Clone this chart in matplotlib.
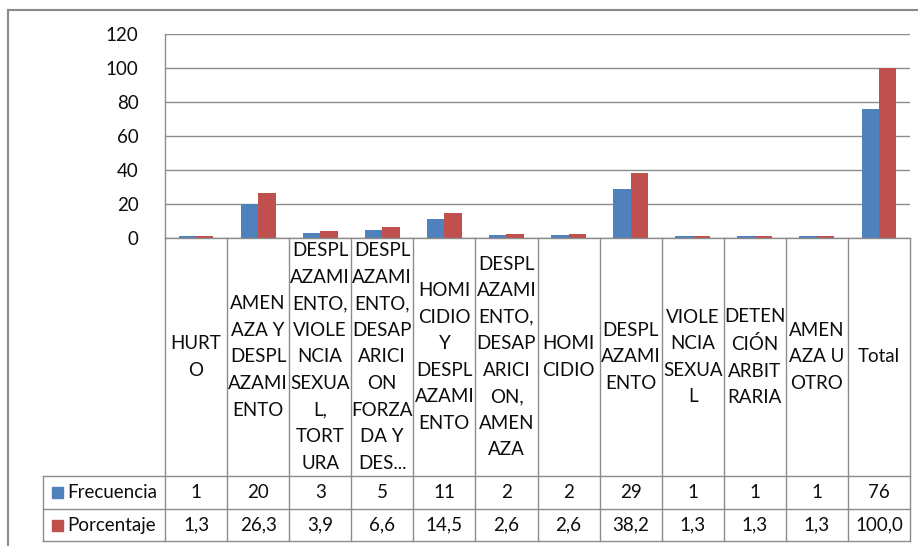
import matplotlib
matplotlib.use("Agg")
import matplotlib.pyplot as plt
from matplotlib.lines import Line2D
from matplotlib.patches import Rectangle
import numpy as np

categories = [
    "HURT\nO",
    "AMEN\nAZA Y\nDESPL\nAZAMI\nENTO",
    "DESPL\nAZAMI\nENTO,\nVIOLE\nNCIA\nSEXUA\nL,\nTORT\nURA",
    "DESPL\nAZAMI\nENTO,\nDESAP\nARICI\nON\nFORZA\nDA Y\nDES...",
    "HOMI\nCIDIO\nY\nDESPL\nAZAMI\nENTO",
    "DESPL\nAZAMI\nENTO,\nDESAP\nARICI\nON,\nAMEN\nAZA",
    "HOMI\nCIDIO",
    "DESPL\nAZAMI\nENTO",
    "VIOLE\nNCIA\nSEXUA\nL",
    "DETEN\nCIÓN\nARBIT\nRARIA",
    "AMEN\nAZA U\nOTRO",
    "Total",
]
frecuencia = [1, 20, 3, 5, 11, 2, 2, 29, 1, 1, 1, 76]
porcentaje = [1.3, 26.3, 3.9, 6.6, 14.5, 2.6, 2.6, 38.2, 1.3, 1.3, 1.3, 100.0]
series_names = ["Frecuencia", "Porcentaje"]
yticks = [0, 20, 40, 60, 80, 100, 120]

BLUE = "#4F81BD"
RED = "#C0504D"
GRID = "#8C8C8C"
TXT = "#0d0d0d"
FONT = "Lato"
FS = 13.5

W, H = 918, 546
fig = plt.figure(figsize=(W / 100, H / 100), dpi=100)
plt.rcParams["font.family"] = [FONT, "DejaVu Sans"]

def fx(px):
    return px / W

def fy(py):
    return 1 - py / H

# pixel layout
pl, pr = 165, 910
ptop, pzero = 34, 238
tbl_left = 43
row_lab_bot, row1_bot, row2_bot = 476, 509, 541

ax = fig.add_axes([fx(pl), fy(pzero), fx(pr) - fx(pl), fy(ptop) - fy(pzero)])
n = len(categories)
x = np.arange(n)
bw = 0.28
ax.bar(x - bw / 2, frecuencia, bw, color=BLUE, zorder=3)
ax.bar(x + bw / 2, porcentaje, bw, color=RED, zorder=3)
ax.set_xlim(-0.5, n - 0.5)
ax.set_ylim(0, 120)
ax.set_yticks(yticks)
ax.set_yticklabels([str(v) for v in yticks], fontsize=FS, color=TXT)
ax.tick_params(axis="y", length=0, pad=19)
ax.set_xticks([])
ax.grid(axis="y", color=GRID, linewidth=1.0, zorder=0)
for s in ["top", "right", "bottom"]:
    ax.spines[s].set_visible(False)
ax.spines["left"].set_color(GRID)
ax.spines["left"].set_linewidth(1.0)

# table axes
unit = (pr - pl) / n
tx0 = -0.5 - (pl - tbl_left) / unit
tb = fig.add_axes([fx(tbl_left), fy(row2_bot), fx(pr) - fx(tbl_left), fy(pzero) - fy(row2_bot)])
tb.set_xlim(tx0, n - 0.5)
tb.set_ylim(row2_bot, pzero)
tb.axis("off")

lc = dict(color=GRID, linewidth=1.0, clip_on=False)
# horizontal lines
tb.plot([-0.5, n - 0.5], [pzero, pzero], **lc)
for yy in [row_lab_bot, row1_bot, row2_bot]:
    tb.plot([tx0, n - 0.5], [yy, yy], **lc)
# vertical lines
for b in np.arange(n + 1) - 0.5:
    tb.plot([b, b], [pzero, row2_bot], **lc)
tb.plot([tx0, tx0], [row_lab_bot, row2_bot], **lc)

lab_c = (pzero + row_lab_bot) / 2
r1_c = (row_lab_bot + row1_bot) / 2
r2_c = (row1_bot + row2_bot) / 2
for i, lab in enumerate(categories):
    tb.text(i, lab_c, lab, ha="center", va="center", fontsize=FS, color=TXT,
            linespacing=1.68, multialignment="center")
    tb.text(i, r1_c, f"{frecuencia[i]}", ha="center", va="center", fontsize=FS, color=TXT)
    tb.text(i, r2_c, f"{porcentaje[i]:.1f}".replace(".", ","), ha="center", va="center",
            fontsize=FS, color=TXT)

# legend keys in table
ksz = 11 / unit
for yc, col, name in [(r1_c, BLUE, series_names[0]), (r2_c, RED, series_names[1])]:
    kx = tx0 + (52 - tbl_left) / unit
    tb.add_patch(Rectangle((kx, yc - 5.5), ksz, 11, color=col, clip_on=False))
    tb.text(tx0 + (67 - tbl_left) / unit, yc, name, ha="left", va="center",
            fontsize=FS, color=TXT)

# outer chart border
fig.add_artist(Line2D([fx(8), fx(8)], [fy(10), fy(546)], color="#8a8a8a", linewidth=1.5))
fig.add_artist(Line2D([fx(8), fx(918)], [fy(10), fy(10)], color="#8a8a8a", linewidth=1.5))

fig.savefig("out.png", dpi=100)
